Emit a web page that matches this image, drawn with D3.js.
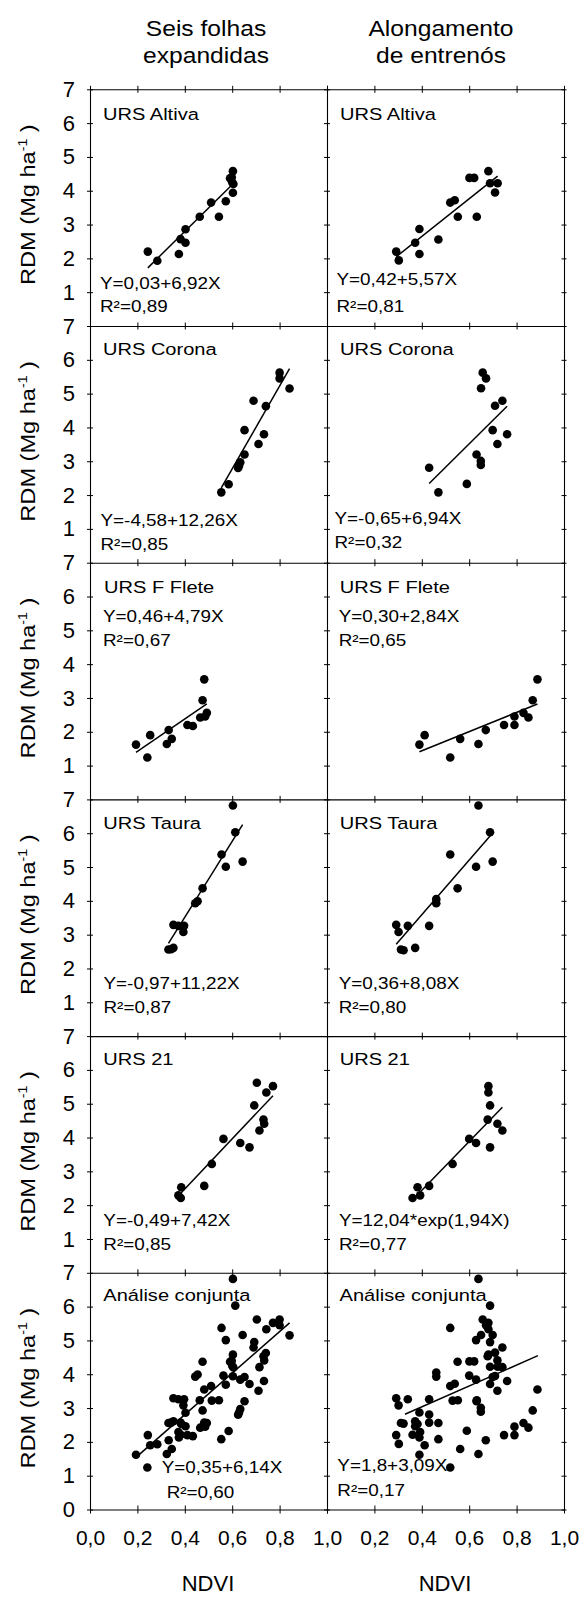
<!DOCTYPE html>
<html><head><meta charset="utf-8">
<script src="https://cdn.jsdelivr.net/npm/d3@7"></script>
<style>body{margin:0;background:#fff} svg{display:block}</style>
</head><body><svg id="c" width="582" height="1597"></svg>
<script>
// ---------- DATA (NDVI, RDM Mg/ha) ----------
const columnTitles = [["Seis folhas","expandidas"],["Alongamento","de entrenós"]];
const cultivars = ["URS Altiva","URS Corona","URS F Flete","URS Taura","URS 21"];
const jointName = "Análise conjunta";
const xTickValues = [0,0.2,0.4,0.6,0.8,1.0];
const yTickValues = [0,1,2,3,4,5,6,7];
const xLabel = "NDVI";

// Seis folhas expandidas
const altivaSeis = [[0.244,2.20],[0.284,1.93],[0.375,2.13],[0.382,2.57],[0.403,2.46],[0.403,2.86],[0.463,3.23],[0.511,3.65],[0.544,3.23],[0.573,3.69],[0.591,4.37],[0.603,4.58],[0.605,4.20],[0.603,3.94],[0.598,4.40],[0.600,4.25]];
const coronaSeis = [[0.554,2.08],[0.585,2.32],[0.629,2.87],[0.625,2.80],[0.634,2.97],[0.652,3.20],[0.652,3.92],[0.690,4.79],[0.711,3.51],[0.734,3.80],[0.742,4.63],[0.800,5.62],[0.800,5.45],[0.842,5.15]];
const fleteSeis = [[0.194,1.62],[0.242,1.24],[0.254,1.90],[0.324,1.64],[0.332,2.05],[0.345,1.79],[0.411,2.20],[0.434,2.17],[0.475,2.93],[0.482,3.55],[0.465,2.42],[0.486,2.45],[0.493,2.56]];
const tauraSeis = [[0.603,6.82],[0.613,6.03],[0.555,5.37],[0.573,5.01],[0.644,5.16],[0.475,4.37],[0.454,3.99],[0.444,3.93],[0.352,3.29],[0.373,3.26],[0.397,3.26],[0.394,3.08],[0.331,2.56],[0.352,2.61],[0.342,2.57]];
const urs21Seis = [[0.373,2.29],[0.383,2.21],[0.385,2.53],[0.482,2.57],[0.514,3.22],[0.563,3.96],[0.634,3.84],[0.673,3.71],[0.693,4.95],[0.704,5.62],[0.715,4.21],[0.732,4.53],[0.735,4.41],[0.744,5.33],[0.772,5.52]];

// Alongamento de entrenós
const altivaAlong = [[0.292,2.20],[0.303,1.94],[0.372,2.46],[0.390,2.87],[0.390,2.13],[0.470,2.56],[0.520,3.65],[0.539,3.72],[0.552,3.23],[0.601,4.38],[0.621,4.38],[0.632,3.23],[0.681,4.58],[0.688,4.22],[0.720,4.22],[0.709,3.95]];
const coronaAlong = [[0.431,2.81],[0.470,2.08],[0.590,2.33],[0.631,3.20],[0.649,3.01],[0.649,2.89],[0.650,5.16],[0.657,5.62],[0.671,5.45],[0.699,3.92],[0.709,4.64],[0.740,4.79],[0.719,3.51],[0.760,3.80]];
const fleteAlong = [[0.390,1.62],[0.412,1.90],[0.520,1.24],[0.562,1.79],[0.639,1.64],[0.670,2.05],[0.747,2.20],[0.791,2.20],[0.791,2.45],[0.829,2.56],[0.850,2.42],[0.868,2.93],[0.888,3.55]];
const tauraAlong = [[0.639,6.82],[0.688,6.03],[0.520,5.37],[0.629,5.01],[0.699,5.16],[0.551,4.37],[0.461,4.05],[0.461,3.93],[0.431,3.26],[0.292,3.29],[0.302,3.08],[0.341,3.26],[0.372,2.61],[0.312,2.56],[0.323,2.54]];
const urs21Along = [[0.361,2.21],[0.382,2.53],[0.393,2.29],[0.431,2.57],[0.530,3.22],[0.600,3.96],[0.629,3.84],[0.681,5.52],[0.681,5.33],[0.678,4.53],[0.688,4.95],[0.688,3.71],[0.719,4.41],[0.740,4.21]];

// fitted lines: [intercept, slope], optional drawn x-range
const fitSeis  = [[0.03,6.92],[-4.58,12.26],[0.46,4.79],[-0.97,11.22],[-0.49,7.42],[0.35,6.14]];
const fitAlong = [[0.42,5.57],[-0.65,6.94],[0.30,2.84],[0.36,8.08],[-0.453,7.23],[1.8,3.09]];
const rangeAlong = [null,null,null,null,[0.382,0.740],[0.329,0.890]];
const eqSeis  = ["Y=0,03+6,92X","Y=-4,58+12,26X","Y=0,46+4,79X","Y=-0,97+11,22X","Y=-0,49+7,42X","Y=0,35+6,14X"];
const r2Seis  = ["R²=0,89","R²=0,85","R²=0,67","R²=0,87","R²=0,85","R²=0,60"];
const eqAlong = ["Y=0,42+5,57X","Y=-0,65+6,94X","Y=0,30+2,84X","Y=0,36+8,08X","Y=12,04*exp(1,94X)","Y=1,8+3,09X"];
const r2Along = ["R²=0,81","R²=0,32","R²=0,65","R²=0,80","R²=0,77","R²=0,17"];

const seisSets  = [altivaSeis, coronaSeis, fleteSeis, tauraSeis, urs21Seis];
const alongSets = [altivaAlong, coronaAlong, fleteAlong, tauraAlong, urs21Along];

// ---------- LAYOUT ----------
const svg = d3.select('#c');
const FONT = "'Liberation Sans', Arial, Helvetica, sans-serif";
const SX = 1.18;
const colX = [90, 327], colW = [237, 237];
const top0 = 89.3, ph = 236.7;
// annotation offsets relative to panel top-left: [titleDx,titleDy, eqDx,eqDy, r2Dx,r2Dy]
const annotPos = [
  [[13,31,10,200,10,222.5],[13,31,9.5,196,9.5,222.5]],
  [[13,29,10.5,199.5,10.5,224],[13,29,7.5,197.5,7.5,222]],
  [[14,30,13,59.3,13,83.3],[12.7,30,11.7,59.3,11.7,83.3]],
  [[13.3,29.3,13.5,189.3,13.5,213.3],[12.7,29.3,11.7,189.3,11.7,213.3]],
  [[13.3,29,13.3,189.7,13.3,213.7],[12.7,29,12,189.7,12,213.7]],
  [[13.3,28.2,71.7,200,76.7,225],[12.6,28.2,10.3,198,10.3,223]]
];

function stext(x, y, str, size, anchor, sx) {
  return svg.append('text')
    .attr('transform', `translate(${x},${y}) scale(${sx || SX},1)`)
    .attr('font-size', size).attr('font-family', FONT)
    .attr('text-anchor', anchor || 'start').attr('fill', '#000').text(str);
}
const fmtX = d => d3.format('.1f')(d).replace('.', ',');

function styleAxis(g) {
  g.selectAll('path.domain').attr('stroke', '#000').attr('stroke-width', 1.1);
  g.selectAll('.tick line').attr('stroke', '#000').attr('stroke-width', 1);
  g.selectAll('text').attr('font-family', FONT).attr('fill', '#000');
}

function drawPanel(row, col, pts, fit, range, title, eq, r2) {
  const x0 = colX[col], y0 = top0 + row * ph;
  const x = d3.scaleLinear([0, 1], [x0, x0 + colW[col]]);
  const y = d3.scaleLinear([0, 7], [y0 + ph, y0]);
  const last = row === 5;

  // top axis (crossing ticks)
  const gt = svg.append('g').attr('transform', `translate(0,${y0})`)
    .call(d3.axisTop(x).tickValues(xTickValues).tickSize(3.5).tickSizeOuter(0).tickFormat(''));
  gt.selectAll('.tick line').attr('y1', 3.5);
  styleAxis(gt);

  // left axis
  const yv = last ? yTickValues : yTickValues.slice(1);
  const gl = svg.append('g').attr('transform', `translate(${x0},0)`)
    .call(d3.axisLeft(y).tickValues(yv).tickSize(3).tickSizeOuter(0).tickPadding(12)
      .tickFormat(col === 0 ? (d => d) : ''));
  gl.selectAll('.tick line').attr('x1', 3);
  styleAxis(gl);
  gl.selectAll('text').attr('font-size', 22);

  // right axis (right column only)
  if (col === 1) {
    const gr = svg.append('g').attr('transform', `translate(${x0 + colW[col]},0)`)
      .call(d3.axisRight(y).tickValues(yv).tickSize(2.5).tickSizeOuter(0).tickFormat(''));
    gr.selectAll('.tick line').attr('x1', -2.5);
    styleAxis(gr);
  }

  // bottom axis for last row
  if (last) {
    const gb = svg.append('g').attr('transform', `translate(0,${y0 + ph})`)
      .call(d3.axisBottom(x).tickValues(xTickValues).tickSize(4).tickSizeOuter(0).tickPadding(17)
        .tickFormat(d => (col === 1 && d === 0) ? '' : fmtX(d)));
    gb.selectAll('.tick line').attr('y1', -4);
    styleAxis(gb);
    gb.selectAll('text').attr('font-size', 21);
  }

  // regression line
  const ext = range || d3.extent(pts, d => d[0]);
  const lineData = ext.map(v => [v, fit[0] + fit[1] * v]);
  svg.append('path').datum(lineData)
    .attr('d', d3.line().x(d => x(d[0])).y(d => y(d[1])))
    .attr('fill', 'none').attr('stroke', '#000').attr('stroke-width', 1.5);

  // points
  svg.append('g').selectAll('circle').data(pts).join('circle')
    .attr('cx', d => x(d[0])).attr('cy', d => y(d[1])).attr('r', 4.3).attr('fill', '#000');

  // annotations
  const p = annotPos[row][col];
  stext(x0 + p[0], y0 + p[1], title, 17);
  stext(x0 + p[2], y0 + p[3], eq, 16);
  stext(x0 + p[4], y0 + p[5], r2, 16);
}

for (let r = 0; r < 6; r++) {
  const name = r < 5 ? cultivars[r] : jointName;
  const sp = r < 5 ? seisSets[r] : seisSets.flat();
  const ap = r < 5 ? alongSets[r] : alongSets.flat();
  drawPanel(r, 0, sp, fitSeis[r], null, name, eqSeis[r], r2Seis[r]);
  drawPanel(r, 1, ap, fitAlong[r], rangeAlong[r], name, eqAlong[r], r2Along[r]);
}

// column titles
const titleCx = [206, 441];
columnTitles.forEach((t, i) => {
  stext(titleCx[i], 36, t[0], 22, 'middle', 1.12);
  stext(titleCx[i], 63, t[1], 22, 'middle', 1.12);
});

// x-axis labels
[208, 445].forEach(cx => {
  svg.append('text').attr('x', cx).attr('y', 1591).attr('text-anchor', 'middle')
    .attr('font-size', 22).attr('font-family', FONT).text(xLabel);
});

// y-axis labels
for (let r = 0; r < 6; r++) {
  const cy = top0 + r * ph + ph / 2 - 3;
  const t = svg.append('text')
    .attr('transform', `translate(35,${cy}) rotate(-90) scale(${SX},1)`)
    .attr('text-anchor', 'middle').attr('font-size', 20).attr('font-family', FONT);
  t.append('tspan').text('RDM (Mg ha');
  t.append('tspan').attr('font-size', 12).attr('dy', -8).text('-1');
  t.append('tspan').attr('dy', 8).text(' )');
}
</script></body></html>
